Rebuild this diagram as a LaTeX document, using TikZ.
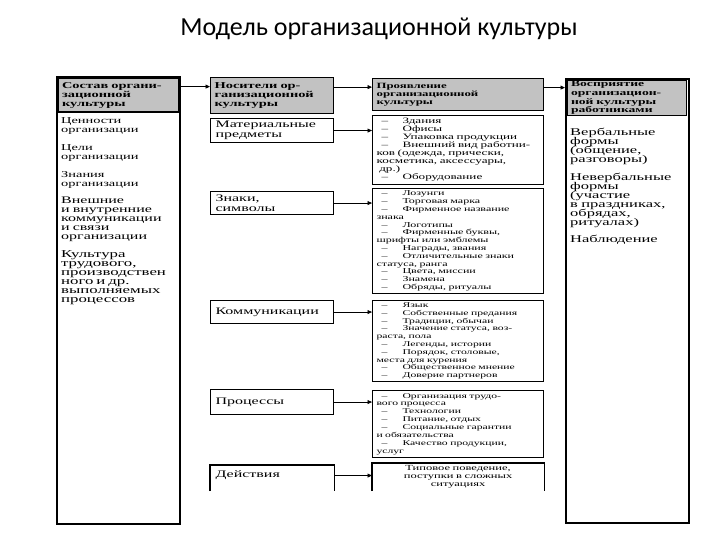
\documentclass[tikz,border=0pt]{standalone}
\usepackage{fontspec}
\setmainfont{Liberation Serif}
\newfontfamily\wf[FakeStretch=1.6]{Liberation Serif}
\newfontfamily\ttlf{Carlito}
\usetikzlibrary{arrows.meta}
\definecolor{hdrgray}{RGB}{194,194,194}
\newcommand{\dd}{\hspace*{5pt}\makebox[21pt][l]{–}}
\begin{document}
\begin{tikzpicture}[x=1pt,y=-1pt,
  every node/.style={inner sep=0pt, execute at begin node={\lineskiplimit=-20pt\relax}},
  outerbox/.style={draw, line width=2.2pt, anchor=north west},
  hdrbox/.style={draw, line width=1.2pt, fill=hdrgray, anchor=north west, align=left, inner xsep=4pt, font=\wf\bfseries\fontsize{9}{9}\selectfont},
  carrier/.style={draw, line width=1.1pt, anchor=north west, align=left, inner xsep=5pt, text width=113pt, font=\wf\fontsize{10}{10}\selectfont},
  showbox/.style={draw, line width=1.1pt, anchor=north west, align=left, inner xsep=4pt, text width=163pt, font=\wf\fontsize{7.5}{7.8}\selectfont},
  listtext/.style={anchor=north west, align=left, font=\wf\fontsize{9}{9}\selectfont},
  link/.style={line width=0.8pt, -{Triangle[length=4.5pt,width=4pt]}},
  openline/.style={line width=1.1pt}
]
\useasboundingbox (0,0) rectangle (720,540);

% title
\node[font=\ttlf\fontsize{26}{26}\selectfont] (title) at (379,29) {Модель организационной культуры};

% column 1
\node[outerbox, minimum width=123pt, minimum height=447pt] (c1) at (56,76) {};
\node[hdrbox, text width=112pt, minimum height=34pt] (h1) at (57.5,77.5) {Состав органи-\\зационной\\культуры};
\node[listtext, text width=116pt] (t1) at (61,117) {Ценности\\организации\\[9pt]
Цели\\организации\\[9pt]
Знания\\организации\\[8pt]
{\fontsize{10}{9}\selectfont Внешние\\и внутренние\\коммуникации\\и связи\\организации}\\[9pt]
{\fontsize{10.5}{9}\selectfont Культура\\трудового,\\производствен\\ного и др.\\выполняемых\\процессов}};

% column 2
\node[hdrbox, text width=115pt, minimum height=36pt] (h2) at (210,77) {Носители ор-\\ганизационной\\культуры};
\node[carrier, minimum height=24pt] (m1) at (210,118) {Материальные\\предметы};
\node[carrier, minimum height=23pt] (m2) at (210,191) {Знаки,\\символы};
\node[carrier, minimum height=23pt] (m3) at (210,300) {Коммуникации};
\node[carrier, minimum height=25pt] (m4) at (210,389) {Процессы};
\node[carrier, draw=none, minimum height=20pt] (m5) at (210,465) {Действия};
\draw[openline] ([yshift=-5pt]m5.south west) -- (m5.north west) -- (m5.north east) -- ([yshift=-5pt]m5.south east);

% column 3
\node[hdrbox, text width=163pt, minimum height=32pt, font=\wf\bfseries\fontsize{8}{8}\selectfont] (h3) at (372,78) {Проявление\\организационной\\культуры};
\node[showbox, minimum height=69pt, font=\wf\fontsize{8.2}{8}\selectfont] (p1) at (372,115) {\dd Здания\\
\dd Офисы\\
\dd Упаковка продукции\\
\dd Внешний вид работни-\\
ков (одежда, прически,\\
косметика, аксессуары,\\
\ др.)\\
\dd Оборудование};
\node[showbox, minimum height=105pt] (p2) at (372,188) {\dd Лозунги\\
\dd Торговая марка\\
\dd Фирменное название\\
знака\\
\dd Логотипы\\
\dd Фирменные буквы,\\
шрифты или эмблемы\\
\dd Награды, звания\\
\dd Отличительные знаки\\
статуса, ранга\\
\dd Цвета, миссии\\
\dd Знамена\\
\dd Обряды, ритуалы};
\node[showbox, minimum height=81pt, font=\wf\fontsize{7.3}{7.8}\selectfont] (p3) at (372,300) {\dd Язык\\
\dd Собственные предания\\
\dd Традиции, обычаи\\
\dd Значение статуса, воз-\\
раста, пола\\
\dd Легенды, истории\\
\dd Порядок, столовые,\\
места для курения\\
\dd Общественное мнение\\
\dd Доверие партнеров};
\node[showbox, minimum height=67pt, font=\wf\fontsize{7.3}{7.9}\selectfont] (p4) at (372,390) {\dd Организация трудо-\\
вого процесса\\
\dd Технологии\\
\dd Питание, отдых\\
\dd Социальные гарантии\\
и обязательства\\
\dd Качество продукции,\\
услуг};
\node[showbox, draw=none, align=center, minimum height=27pt, font=\wf\fontsize{7.8}{8}\selectfont] (p5) at (372,463) {Типовое поведение,\\поступки в сложных\\ситуациях};
\draw[openline] (p5.south west) -- (p5.north west) -- (p5.north east) -- (p5.south east);

% column 4
\node[outerbox, minimum width=123pt, minimum height=444pt] (c4) at (565,78) {};
\node[hdrbox, text width=111pt, minimum height=35.5pt, font=\wf\bfseries\fontsize{8.5}{8.6}\selectfont] (h4) at (566.5,79.5) {Восприятие\\организацион-\\ной культуры\\работниками};
\node[listtext, text width=114pt, font=\wf\fontsize{10.3}{9}\selectfont] (t4) at (570,128) {Вербальные\\формы\\(общение,\\разговоры)\\[9pt]
Невербальные\\формы\\(участие\\в праздниках,\\обрядах,\\ритуалах)\\[8pt]
Наблюдение};

% header arrows
\coordinate (a1) at ([yshift=8.5pt]h1.east);
\coordinate (a2) at ([yshift=8.5pt]h2.east);
\coordinate (a3) at ([yshift=7pt]h3.east);
\draw[link] (a1) -- (a1 -| h2.west);
\draw[link] (a2) -- (a2 -| h3.west);
\draw[link] (a3) -- (a3 -| c4.west);

% carrier -> manifestation arrows
\draw[link] (m1.east) -- (m1.east -| p1.west);
\draw[link] (m2.east) -- (m2.east -| p2.west);
\draw[link] (m3.east) -- (m3.east -| p3.west);
\draw[link] (m4.east) -- (m4.east -| p4.west);
\draw[link] (m5.east) -- (m5.east -| p5.west);
\end{tikzpicture}
\end{document}
